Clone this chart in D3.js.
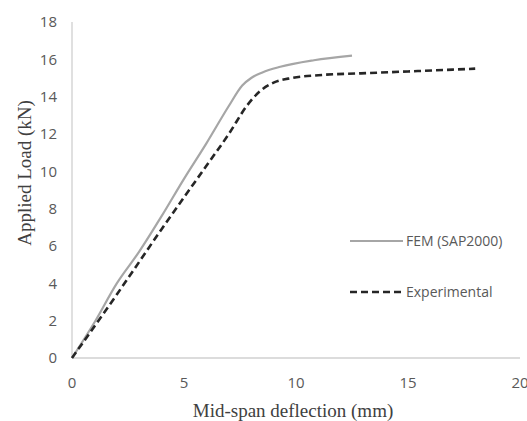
<!DOCTYPE html>
<html><head><meta charset="utf-8">
<script src="https://cdn.jsdelivr.net/npm/d3@7"></script>
<style>body{margin:0;background:#fff}svg{display:block}</style>
</head><body>
<svg id="c" width="527" height="421"></svg>
<script>
const femX = [0, 1, 2, 3, 4, 5, 6, 7, 7.6, 8, 8.5, 9.3, 10.8, 12.5];
const femY = [0, 1.9, 4.0, 5.7, 7.6, 9.6, 11.5, 13.5, 14.6, 15.0, 15.3, 15.6, 15.95, 16.2];
const expX = [0, 2, 4, 6, 7, 7.8, 8.4, 9.0, 9.8, 11, 12.9, 15, 18];
const expY = [0, 3.4, 6.9, 10.3, 12.0, 13.5, 14.3, 14.75, 15.0, 15.15, 15.25, 15.35, 15.5];
const xTicks = [0, 5, 10, 15, 20];
const yTicks = [0, 2, 4, 6, 8, 10, 12, 14, 16, 18];
const seriesNames = ["FEM (SAP2000)", "Experimental"];

const svg = d3.select("#c");
const x = d3.scaleLinear().domain([0, 20]).range([72, 520]);
const y = d3.scaleLinear().domain([0, 18]).range([358, 22]);

svg.append("line").attr("x1", x(0)).attr("x2", x(20)).attr("y1", y(0)).attr("y2", y(0))
  .attr("stroke", "#d0d0d0").attr("stroke-width", 1.3);
svg.append("line").attr("x1", x(0)).attr("x2", x(0)).attr("y1", y(0)).attr("y2", y(18))
  .attr("stroke", "#d0d0d0").attr("stroke-width", 1.3);

const tickFont = "'Open Sans', 'Liberation Sans', sans-serif";
svg.selectAll(".yt").data(yTicks).enter().append("text")
  .attr("x", 57).attr("y", d => y(d)).attr("dy", "0.35em")
  .attr("text-anchor", "end").attr("font-family", tickFont).attr("font-size", 15)
  .attr("fill", "#595959").text(d => d);
svg.selectAll(".xt").data(xTicks).enter().append("text")
  .attr("x", d => x(d)).attr("y", 383).attr("dy", "0.35em")
  .attr("text-anchor", "middle").attr("font-family", tickFont).attr("font-size", 15)
  .attr("fill", "#595959").text(d => d);

const serif = "'Liberation Serif', 'DejaVu Serif', serif";
svg.append("text").attr("x", 293).attr("y", 410).attr("dy", "0.35em")
  .attr("text-anchor", "middle").attr("font-family", serif).attr("font-size", 19)
  .attr("fill", "#404040").text("Mid-span deflection (mm)");
svg.append("text").attr("transform", "translate(24,173) rotate(-90)").attr("dy", "0.35em")
  .attr("text-anchor", "middle").attr("font-family", serif).attr("font-size", 19)
  .attr("fill", "#404040").text("Applied Load (kN)");

const line = d3.line().x(d => x(d[0])).y(d => y(d[1])).curve(d3.curveMonotoneX);
svg.append("path").datum(femX.map((v, i) => [v, femY[i]])).attr("d", line)
  .attr("fill", "none").attr("stroke", "#a6a6a6").attr("stroke-width", 2.2);
svg.append("path").datum(expX.map((v, i) => [v, expY[i]])).attr("d", line)
  .attr("fill", "none").attr("stroke", "#262626").attr("stroke-width", 2.6)
  .attr("stroke-dasharray", "7,4");

const legY = [241, 292];
const styles = [{c: "#a6a6a6", w: 2.2, d: null}, {c: "#262626", w: 2.6, d: "7,4"}];
seriesNames.forEach((n, i) => {
  const l = svg.append("line").attr("x1", 350).attr("x2", 403).attr("y1", legY[i]).attr("y2", legY[i])
    .attr("stroke", styles[i].c).attr("stroke-width", styles[i].w);
  if (styles[i].d) l.attr("stroke-dasharray", styles[i].d);
  svg.append("text").attr("x", 406).attr("y", legY[i]).attr("dy", "0.35em")
    .attr("font-family", tickFont).attr("font-size", 14).attr("fill", "#595959").text(n);
});
</script>
</body></html>
